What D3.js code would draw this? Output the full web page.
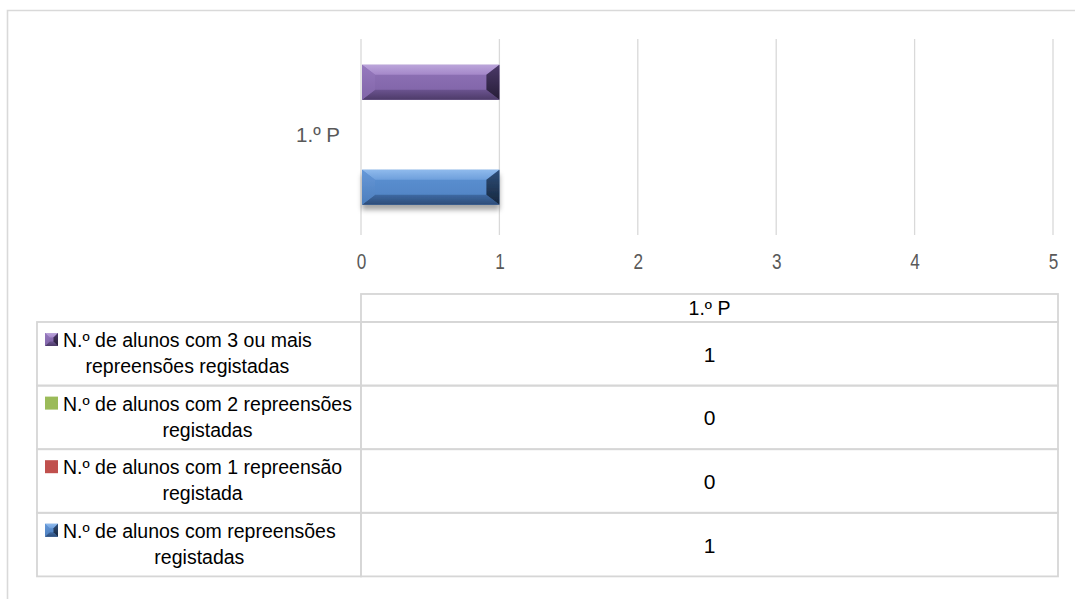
<!DOCTYPE html>
<html>
<head>
<meta charset="utf-8">
<script src="https://cdn.jsdelivr.net/npm/d3@7/dist/d3.min.js"></script>
<style>
  body { margin: 0; background: #fff; }
  svg { display: block; font-family: "Liberation Sans", Arial, sans-serif; }
</style>
</head>
<body>
<div id="chart"></div>
<script>
// data
var categories = ["1.º P"];
var seriesNames = [
  "N.º de alunos com repreensões registadas",
  "N.º de alunos com 1 repreensão registada",
  "N.º de alunos com 2 repreensões registadas",
  "N.º de alunos com 3 ou mais repreensões registadas"
];
var seriesValues = [[1], [0], [0], [1]];
var xTicks = [0, 1, 2, 3, 4, 5];

// styles per series (same order as seriesNames)
var seriesStyle = [
  { key: "blue",   base: "#4f81bd", bevel: true,  shadow: true,
    top: ["#8fbaec", "#6e9fdc"], body: ["#5e92d4", "#4e81c1"], bottom: ["#3e69a2", "#2c4b78"],
    left: ["#6698d8", "#4c7ebd"], right: ["#2f4f7a", "#16263d"] },
  { key: "red",    base: "#c0504d", bevel: false },
  { key: "green",  base: "#9bbb59", bevel: false },
  { key: "purple", base: "#8064a2", bevel: true,  shadow: false,
    top: ["#bba5da", "#a487c9"], body: ["#9073b8", "#7e62a5"], bottom: ["#6b538f", "#4d3b69"],
    left: ["#9679be", "#8165a8"], right: ["#4b3968", "#271d37"] }
];

var W = 1075, H = 599;
var svg = d3.select("#chart").append("svg").attr("width", W).attr("height", H);
var defs = svg.append("defs");

var grid = "#d9d9d9";
var grayText = "#595959";

// outer chart frame (cropped: only top and left visible)
svg.append("path")
  .attr("d", "M7.5,600 V10.5 H1076")
  .attr("fill", "none").attr("stroke", grid).attr("stroke-width", 1.6);

// scales
var x = d3.scaleLinear().domain([0, 5]).range([361, 1053]);
var yCat = d3.scaleBand().domain(categories).range([39, 235])
  .paddingInner(0).paddingOuter(0.2).align(0.46);
// series from top to bottom: last series first
var order = d3.range(seriesNames.length).reverse();
var ySer = d3.scaleBand().domain(order).range([0, yCat.bandwidth()]);

// gridlines
svg.append("g").selectAll("line").data(xTicks).enter().append("line")
  .attr("x1", function(d) { return x(d); }).attr("x2", function(d) { return x(d); })
  .attr("y1", 39).attr("y2", 235)
  .attr("stroke", grid).attr("stroke-width", 1.3);

// x axis labels (narrow look)
var xAxis = d3.axisBottom(x).tickValues(xTicks).tickSize(0).tickPadding(0).tickFormat(d3.format("d"));
var gx = svg.append("g").attr("transform", "translate(0,253)").call(xAxis);
gx.select(".domain").remove();
gx.selectAll("text").attr("font-size", 22).attr("fill", grayText)
  .attr("transform", "scale(0.78,1)");

// category label
svg.append("g").selectAll("text").data(categories).enter().append("text")
  .attr("x", 340).attr("y", function(d) { return yCat(d) + yCat.bandwidth() / 2 + 7; })
  .attr("text-anchor", "end").attr("font-size", 20.5).attr("fill", grayText)
  .text(function(d) { return d; });

// gradients
function grad(id, c) {
  var g = defs.append("linearGradient").attr("id", id).attr("x1", 0).attr("y1", 0).attr("x2", 0).attr("y2", 1);
  g.append("stop").attr("offset", "0%").attr("stop-color", c[0]);
  g.append("stop").attr("offset", "100%").attr("stop-color", c[1]);
}
seriesStyle.forEach(function(s) {
  if (!s.bevel) return;
  ["top", "body", "bottom", "left", "right"].forEach(function(p) { grad(s.key + "-" + p, s[p]); });
});
var sh = defs.append("filter").attr("id", "shadow").attr("x", "-10%").attr("y", "-20%").attr("width", "120%").attr("height", "160%");
sh.append("feDropShadow").attr("dx", 0).attr("dy", 5).attr("stdDeviation", 2.5)
  .attr("flood-color", "#000").attr("flood-opacity", 0.35);

function bevelShape(g, s, x0, y0, x1, y1, bw, bh) {
  g.append("rect").attr("x", x0).attr("y", y0).attr("width", x1 - x0).attr("height", y1 - y0)
    .attr("fill", "url(#" + s.key + "-body)");
  var pts = {
    top:    [[x0, y0], [x1, y0], [x1 - bw, y0 + bh], [x0 + bw, y0 + bh]],
    bottom: [[x0, y1], [x1, y1], [x1 - bw, y1 - bh], [x0 + bw, y1 - bh]],
    left:   [[x0, y0], [x0 + bw, y0 + bh], [x0 + bw, y1 - bh], [x0, y1]],
    right:  [[x1, y0], [x1 - bw, y0 + bh], [x1 - bw, y1 - bh], [x1, y1]]
  };
  ["top", "bottom", "left", "right"].forEach(function(p) {
    g.append("polygon").attr("points", pts[p].map(function(q) { return q.join(","); }).join(" "))
      .attr("fill", "url(#" + s.key + "-" + p + ")");
  });
}

// bars
var barsG = svg.append("g");
categories.forEach(function(cat, ci) {
  order.forEach(function(si) {
    var v = seriesValues[si][ci];
    if (!v) return;
    var s = seriesStyle[si];
    var y0 = yCat(cat) + ySer(si), y1 = y0 + ySer.bandwidth();
    var x0 = x(0) + 1, x1 = x(v);
    var g = barsG.append("g");
    if (s.shadow) g.attr("filter", "url(#shadow)");
    bevelShape(g, s, x0, y0, x1, y1, 13, 10);
  });
});

// data table
var tLeft = 37, tMid = 361, tRight = 1058;
var headTop = 294, headBot = 322, rowH = 63.6;
var tLine = "#d6d6d6";
var table = svg.append("g");
var rowsTop = headBot;

// header
table.append("rect").attr("x", tMid).attr("y", headTop).attr("width", tRight - tMid).attr("height", headBot - headTop)
  .attr("fill", "none").attr("stroke", tLine).attr("stroke-width", 1.8);
categories.forEach(function(cat) {
  table.append("text").attr("x", (tMid + tRight) / 2).attr("y", (headTop + headBot) / 2 + 7)
    .attr("text-anchor", "middle").attr("font-size", 19.5).attr("fill", "#000").text(cat);
});

order.forEach(function(si, r) {
  var top = rowsTop + r * rowH;
  var s = seriesStyle[si];
  table.append("rect").attr("x", tLeft).attr("y", top).attr("width", tMid - tLeft).attr("height", rowH)
    .attr("fill", "none").attr("stroke", tLine).attr("stroke-width", 1.8);
  table.append("rect").attr("x", tMid).attr("y", top).attr("width", tRight - tMid).attr("height", rowH)
    .attr("fill", "none").attr("stroke", tLine).attr("stroke-width", 1.8);

  // legend key
  var kx = 45, ky = top + 11, ks = 13;
  var kg = table.append("g");
  if (s.bevel) {
    bevelShape(kg, s, kx, ky, kx + ks, ky + ks, 4.5, 4.5);
  } else {
    kg.append("rect").attr("x", kx).attr("y", ky).attr("width", ks).attr("height", ks).attr("fill", s.base);
  }

  // wrapped legend label
  var words = seriesNames[si].split(" ");
  var lines = [], cur = "";
  var probe = table.append("text").attr("font-size", 19.5);
  words.forEach(function(w) {
    var t = cur ? cur + " " + w : w;
    probe.text(t);
    if (probe.node().getComputedTextLength() > 295 && cur) { lines.push(cur); cur = w; }
    else cur = t;
  });
  lines.push(cur);
  probe.text(lines[0]);
  var w0 = probe.node().getComputedTextLength();
  probe.remove();
  var tx = 63;
  lines.forEach(function(l, li) {
    table.append("text").attr("x", li === 0 ? tx : tx + w0 / 2)
      .attr("y", top + 25 + li * 26)
      .attr("text-anchor", li === 0 ? "start" : "middle")
      .attr("font-size", 19.5).attr("fill", "#000").text(l);
  });

  // values
  categories.forEach(function(cat, ci) {
    table.append("text").attr("x", (tMid + tRight) / 2).attr("y", top + rowH / 2 + 8)
      .attr("text-anchor", "middle").attr("font-size", 21).attr("fill", "#000")
      .text(seriesValues[si][ci]);
  });
});
</script>
</body>
</html>
